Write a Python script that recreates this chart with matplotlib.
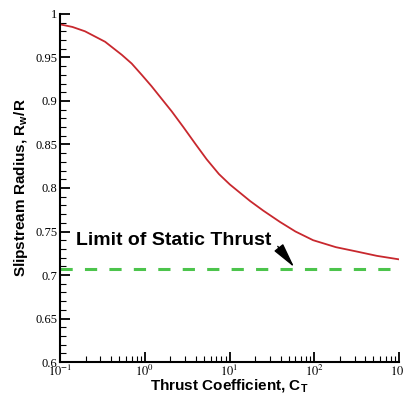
import matplotlib
matplotlib.use("Agg")
import matplotlib.pyplot as plt
from matplotlib.ticker import FixedLocator, NullFormatter

plt.rcParams["mathtext.fontset"] = "stix"

# slipstream radius vs thrust coefficient
ct = [0.1, 0.14, 0.197, 0.34, 0.535, 0.7, 0.92, 1.2, 1.45, 2.08, 2.85, 4.0, 5.37,
      7.5, 10.1, 17.5, 25, 39.4, 60, 97, 180, 317, 550, 1000]
rw_r = [0.988, 0.985, 0.980, 0.968, 0.953, 0.943, 0.930, 0.917, 0.907, 0.888, 0.870,
        0.850, 0.833, 0.816, 0.804, 0.785, 0.774, 0.761, 0.750, 0.740, 0.732, 0.727,
        0.722, 0.718]

static_limit = 0.707

x_ticks = [0.1, 1, 10, 100, 1000]
x_tick_labels = [r"$10^{-1}$", r"$10^{0}$", r"$10^{1}$", r"$10^{2}$", r"$10^{3}$"]
y_ticks = [0.6, 0.65, 0.7, 0.75, 0.8, 0.85, 0.9, 0.95, 1.0]
y_tick_labels = ["0.6", "0.65", "0.7", "0.75", "0.8", "0.85", "0.9", "0.95", "1"]

fig = plt.figure(figsize=(4.03, 3.97), dpi=100)
ax = fig.add_axes([0.149, 0.088, 0.841, 0.877])

ax.plot(ct, rw_r, color="#c8282e", lw=1.3)
ax.axhline(static_limit, color="#4cc44c", lw=2.2, ls=(0, (4, 4)))

ax.set_xscale("log")
ax.set_xlim(0.1, 1000)
ax.set_ylim(0.6, 1.0)

ax.yaxis.set_major_locator(FixedLocator(y_ticks))
ax.yaxis.set_minor_locator(FixedLocator([0.6 + 0.01 * i for i in range(41)]))
ax.set_yticklabels(y_tick_labels)
ax.xaxis.set_major_locator(FixedLocator(x_ticks))
ax.xaxis.set_minor_locator(FixedLocator([m * d for d in [0.1, 1, 10, 100] for m in range(2, 10)]))
ax.xaxis.set_minor_formatter(NullFormatter())
ax.set_xticklabels(x_tick_labels)

for lab in ax.get_xticklabels() + ax.get_yticklabels():
    lab.set_family("Liberation Serif")
    lab.set_fontsize(9)

ax.tick_params(which="major", direction="in", length=7, width=1.3, pad=2)
ax.tick_params(axis="x", which="major", pad=1)
ax.tick_params(which="minor", direction="in", length=4, width=0.8)
for side in ["top", "right"]:
    ax.spines[side].set_visible(False)
for side in ["left", "bottom"]:
    ax.spines[side].set_linewidth(1.5)

ax.set_xlabel(r"Thrust Coefficient, C$_\mathregular{T}$", family="Liberation Sans",
              fontweight="bold", fontsize=11, labelpad=-1)
ax.set_ylabel(r"Slipstream Radius, R$_\mathregular{w}$/R", family="Liberation Sans",
              fontweight="bold", fontsize=11, labelpad=4)

ax.annotate("Limit of Static Thrust", xy=(58, 0.709), xytext=(0.155, 0.740),
            family="Liberation Sans", fontweight="bold", fontsize=14, va="center",
            arrowprops=dict(arrowstyle="-|>,head_length=1.1,head_width=0.25",
                            color="black", lw=1.0, relpos=(1.0, 0.6),
                            shrinkA=4, shrinkB=0))

fig.savefig("out.png", dpi=100)
